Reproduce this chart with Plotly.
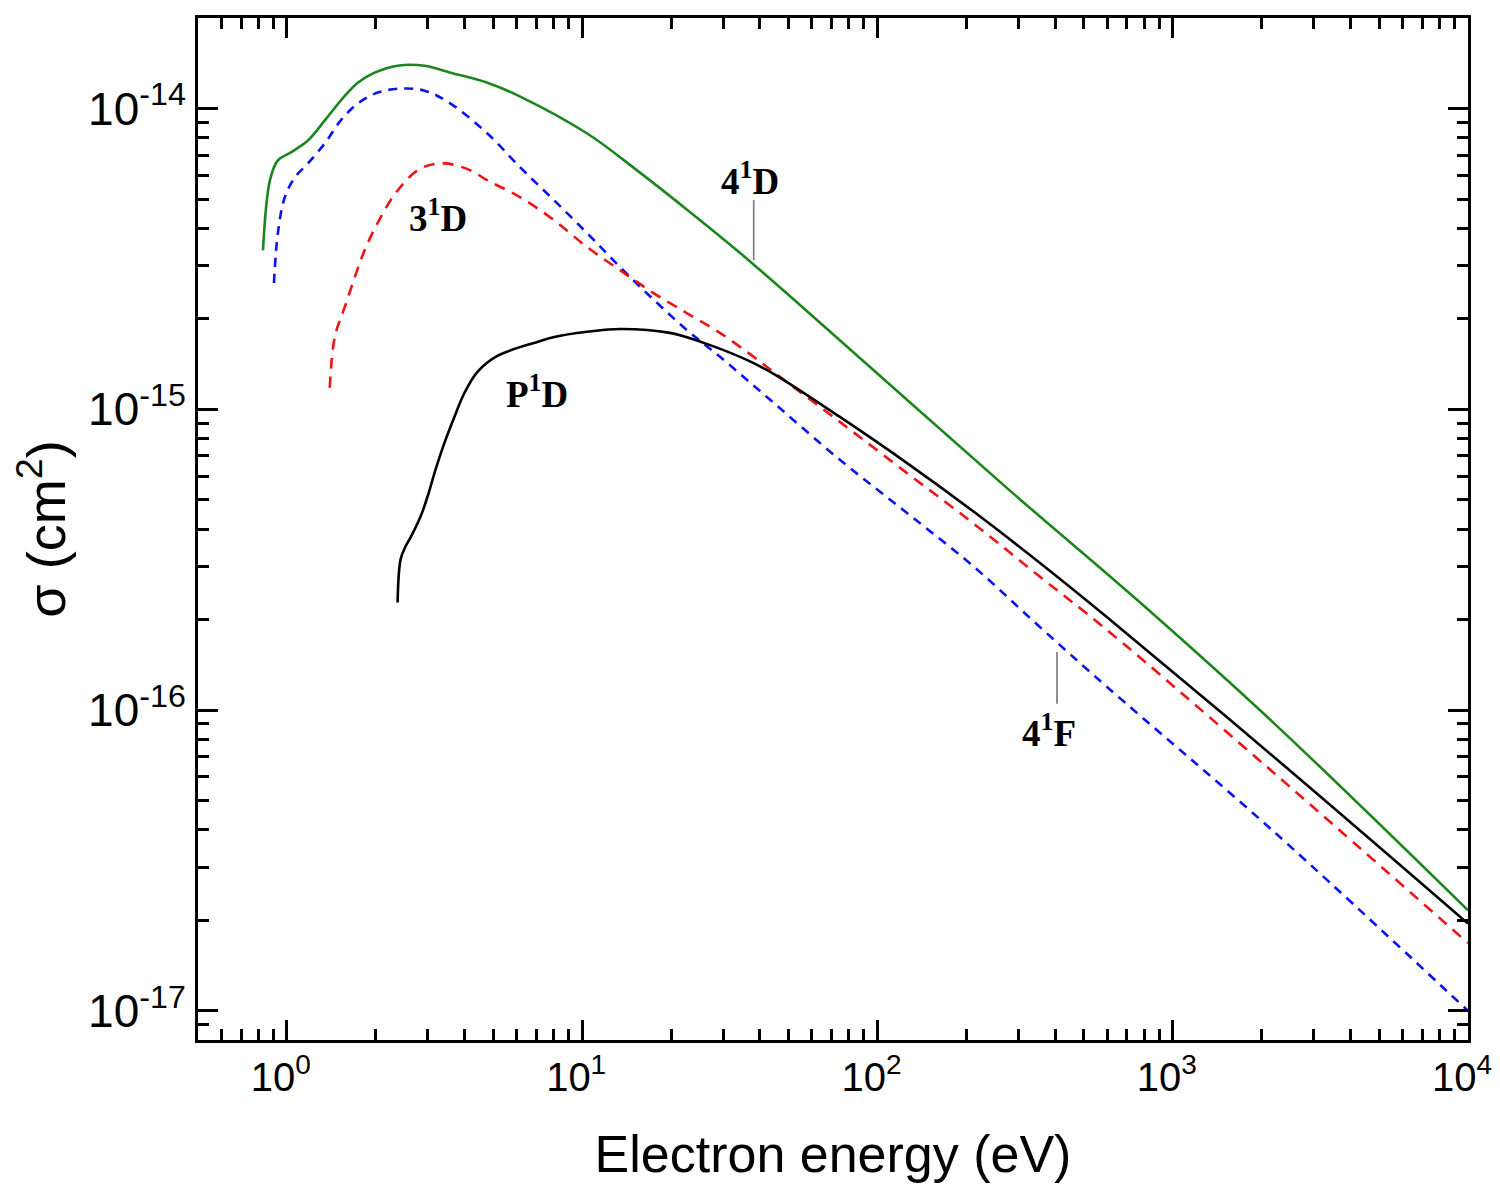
import numpy as np
import plotly.graph_objects as go

# ---- data (electron energy in eV, cross section in cm^2) ----
E_4D = [0.83, 0.876, 0.932, 1.032, 1.178, 1.344, 1.522, 1.738, 1.983, 2.371, 2.926, 3.582,
        4.776, 6.17, 10.4, 15.34, 22.6, 33.4, 49.3, 272.9, 767, 2177, 10000]
S_4D = [3.38e-15, 5.77e-15, 6.72e-15, 7.15e-15, 7.83e-15, 9.13e-15, 1.063e-14, 1.219e-14,
        1.316e-14, 1.388e-14, 1.388e-14, 1.316e-14, 1.219e-14, 1.096e-14, 8.26e-15, 6.23e-15,
        4.62e-15, 3.38e-15, 2.43e-15, 5.50e-16, 2.30e-16, 9.14e-17, 2.16e-17]

E_4F = [0.904, 0.932, 0.984, 1.064, 1.178, 1.344, 1.522, 1.738, 2.03, 2.427, 2.926, 3.582,
        4.776, 6.17, 8.04, 10.4, 13.44, 17.5, 22.6, 29.3, 44.5, 74.4, 125.3, 211, 352.6,
        593.8, 2177, 10000]
S_4F = [2.63e-15, 3.85e-15, 5.07e-15, 5.90e-15, 6.57e-15, 7.66e-15, 9.13e-15, 1.039e-14,
        1.13e-14, 1.165e-14, 1.147e-14, 1.039e-14, 8.26e-15, 6.37e-15, 4.95e-15, 3.85e-15,
        2.97e-15, 2.31e-15, 1.836e-15, 1.494e-15, 1.051e-15, 6.81e-16, 4.54e-16, 3.01e-16,
        1.90e-16, 1.203e-16, 3.98e-17, 1.0e-17]

E_3D = [1.397, 1.453, 1.571, 1.834, 2.078, 2.371, 2.836, 3.419, 4.183, 4.776, 6.17, 8.04,
        10.4, 13.44, 17.5, 22.6, 29.3, 38.1, 44.5, 74.4, 125.3, 211, 352.6, 593.8, 2177, 10000]
S_3D = [1.179e-15, 1.74e-15, 2.19e-15, 3.38e-15, 4.35e-15, 5.34e-15, 6.32e-15, 6.57e-15,
        6.23e-15, 5.77e-15, 5.07e-15, 4.25e-15, 3.46e-15, 2.90e-15, 2.43e-15, 2.09e-15,
        1.795e-15, 1.494e-15, 1.33e-15, 9.10e-16, 6.16e-16, 4.18e-16, 2.79e-16, 1.86e-16,
        6.24e-17, 1.68e-17]

E_PD = [2.371, 2.427, 2.523, 2.624, 2.836, 2.995, 3.187, 3.419, 3.695, 3.995, 4.42, 5.16,
        7.05, 8.04, 10.4, 13.44, 19.83, 25.8, 36.1, 44.5, 74.4, 125.3, 211, 352.6, 593.8,
        2177, 10000]
S_PD = [2.28e-16, 3.17e-16, 3.50e-16, 3.75e-16, 4.40e-16, 5.13e-16, 6.30e-16, 7.75e-16,
        9.45e-16, 1.135e-15, 1.332e-15, 1.505e-15, 1.675e-15, 1.74e-15, 1.81e-15, 1.85e-15,
        1.795e-15, 1.663e-15, 1.46e-15, 1.312e-15, 9.45e-16, 6.65e-16, 4.58e-16, 3.10e-16,
        2.05e-16, 7.05e-17, 1.95e-17]

# labels: (text, energy, sigma)
LABELS = [("<b>4<sup>1</sup>D</b>", 36.9, 5.86e-15),
          ("<b>3<sup>1</sup>D</b>", 3.24, 4.42e-15),
          ("<b>P<sup>1</sup>D</b>", 7.05, 1.15e-15),
          ("<b>4<sup>1</sup>F</b>", 381, 8.53e-17)]
# leader lines: (energy, sigma_start, sigma_end)
LEADERS = [(38.1, 4.96e-15, 3.13e-15),
           (405.5, 1.56e-16, 1.05e-16)]

X_MAJOR = [1, 10, 100, 1000, 10000]
X_MAJOR_TEXT = ["10<sup>0</sup>", "10<sup>1</sup>", "10<sup>2</sup>", "10<sup>3</sup>", "10<sup>4</sup>"]
Y_MAJOR = [1e-17, 1e-16, 1e-15, 1e-14]
Y_MAJOR_TEXT = ["10<sup>-17</sup>", "10<sup>-16</sup>", "10<sup>-15</sup>", "10<sup>-14</sup>"]
X_RANGE = [0.5, 1e4]
Y_RANGE = [8e-18, 2e-14]

x_minor = [m * 10.0 ** d for d in range(-1, 4) for m in range(2, 10) if 0.5 < m * 10.0 ** d < 1e4]
y_minor = [m * 10.0 ** d for d in range(-18, -13) for m in range(2, 10) if 8e-18 < m * 10.0 ** d < 2e-14]

fig = go.Figure()
spl = dict(shape="spline", smoothing=1.0)
fig.add_trace(go.Scatter(x=E_4D, y=S_4D, mode="lines", line=dict(color="#1c861c", width=2.6, **spl)))
fig.add_trace(go.Scatter(x=E_4F, y=S_4F, mode="lines", line=dict(color="#0a14f0", width=2.6, dash="9px,7px", **spl)))
fig.add_trace(go.Scatter(x=E_3D, y=S_3D, mode="lines", line=dict(color="#f01414", width=2.6, dash="11px,8px", **spl)))
fig.add_trace(go.Scatter(x=E_PD, y=S_PD, mode="lines", line=dict(color="black", width=2.6, **spl)))

for e, s0, s1 in LEADERS:
    fig.add_trace(go.Scatter(x=[e, e], y=[s0, s1], mode="lines", line=dict(color="#777777", width=1.6)))

for txt, e, s in LABELS:
    fig.add_annotation(x=np.log10(e), y=np.log10(s), text=txt, showarrow=False,
                       font=dict(family="Liberation Serif", size=37, color="black"),
                       xanchor="center", yanchor="middle")

axis_common = dict(
    type="log", showline=True, linecolor="black", linewidth=3, mirror="allticks",
    ticks="inside", ticklen=20, tickwidth=3, tickcolor="black", showgrid=False, zeroline=False,
)
fig.update_xaxes(**axis_common, range=[np.log10(X_RANGE[0]), np.log10(X_RANGE[1])],
                 tickmode="array", tickvals=X_MAJOR, ticktext=X_MAJOR_TEXT,
                 tickfont=dict(family="Liberation Sans", size=40, color="black"),
                 ticklabelshift=-6,
                 minor=dict(tickmode="array", tickvals=x_minor, ticks="inside", ticklen=11, tickwidth=2.5, tickcolor="black", showgrid=False),
                 title=dict(text="Electron energy (eV)", font=dict(family="Liberation Sans", size=52, color="black"), standoff=38))
fig.update_yaxes(**axis_common, range=[np.log10(Y_RANGE[0]), np.log10(Y_RANGE[1])],
                 tickmode="array", tickvals=Y_MAJOR, ticktext=Y_MAJOR_TEXT,
                 tickfont=dict(family="Liberation Sans", size=46, color="black"),
                 minor=dict(tickmode="array", tickvals=y_minor, ticks="inside", ticklen=11, tickwidth=2.5, tickcolor="black", showgrid=False),
                 title=dict(text="σ (cm<sup>2</sup>)", font=dict(family="Liberation Sans", size=54, color="black"), standoff=22))

fig.update_layout(width=1500, height=1194, showlegend=False,
                  paper_bgcolor="white", plot_bgcolor="white",
                  margin=dict(l=190, r=40, t=7, b=162))
fig.write_html("out.html")
